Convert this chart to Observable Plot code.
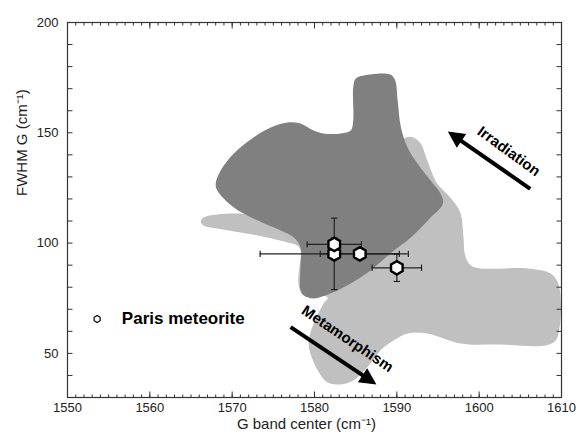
<!DOCTYPE html>
<html>
<head>
<meta charset="utf-8">
<script src="https://cdn.jsdelivr.net/npm/d3@7"></script>
<script src="https://cdn.jsdelivr.net/npm/@observablehq/plot@0.6"></script>
<style>
  html, body { margin: 0; padding: 0; background: white; }
</style>
</head>
<body>
<div id="chart"></div>
<script>
// ---- Data ----
// Light grey domain (outline points, x = G band center, y = FWHM G)
const lightX = [1566.5, 1568.2, 1571.0, 1574.1, 1588.0, 1591.1, 1592.0, 1592.9, 1593.7, 1594.9, 1596.5, 1597.7, 1598.1, 1598.3, 1599.0, 1600.2, 1605.9, 1608.7, 1609.6, 1609.9, 1609.8, 1609.3, 1608.1, 1602.6, 1597.7, 1593.7, 1591.3, 1589.6, 1588.0, 1586.4, 1584.7, 1583.2, 1581.6, 1580.7, 1579.5, 1579.3, 1579.9, 1581.1, 1581.6, 1578.3, 1578.3, 1577.9, 1576.7, 1573.1, 1568.2, 1566.5, 1566.2];
const lightY = [111.6, 113.0, 113.4, 112.1, 137.4, 147.9, 147.9, 145.1, 137.4, 127.0, 120.7, 113.9, 102.5, 94.4, 89.8, 88.5, 88.5, 86.2, 81.7, 74.0, 62.6, 55.8, 53.6, 54.0, 54.5, 59.0, 59.0, 55.8, 51.3, 43.6, 37.7, 35.9, 36.8, 40.4, 49.9, 55.8, 63.5, 72.6, 75.3, 78.5, 96.6, 98.9, 100.3, 103.4, 106.6, 108.0, 109.8];

// Dark grey domain
const darkX = [1585.0, 1586.0, 1589.2, 1589.8, 1590.1, 1590.5, 1591.3, 1592.5, 1594.1, 1595.3, 1595.6, 1594.1, 1591.7, 1589.2, 1586.8, 1584.4, 1581.9, 1579.9, 1578.7, 1578.3, 1578.3, 1578.3, 1577.5, 1575.9, 1573.1, 1570.2, 1568.2, 1568.0, 1568.6, 1570.2, 1572.6, 1574.7, 1576.7, 1578.3, 1579.9, 1581.1, 1583.2, 1584.4, 1584.7, 1584.7];
const darkY = [174.6, 176.0, 176.4, 173.7, 164.6, 152.4, 143.3, 136.1, 128.4, 122.5, 118.0, 111.6, 102.5, 95.3, 87.6, 81.7, 77.1, 74.9, 76.2, 78.5, 88.9, 98.0, 102.5, 105.7, 110.2, 116.1, 123.8, 127.0, 132.9, 140.6, 147.9, 152.4, 154.7, 154.2, 151.0, 149.7, 149.7, 151.0, 155.6, 170.5];

// Paris meteorite measurements
const parisX = [1582.4, 1582.4, 1585.5, 1590.0];
const parisY = [95.1, 99.4, 95.1, 88.8];
const parisErrX = [9.0, 3.3, 4.8, 3.0];
const parisErrY = [16.2, 3.0, 0, 6.2];

// Axis ticks
const xTickValues = [1550, 1560, 1570, 1580, 1590, 1600, 1610];
const xMinorTicks = d3.range(1550, 1611, 1);
const yTickValues = [50, 100, 150, 200];
const yMinorTicks = d3.range(30, 201, 10);

// Texts
const xTitle = "G band center (cm\u207B\u00B9)";
const yTitle = "FWHM G (cm\u207B\u00B9)";
const legendLabel = ["Paris meteorite"];
const legendX = [1553.6];
const legendY = [65.6];
const legendTextX = [1556.6];

// Trend arrows and labels
const arrowNames = ["Irradiation", "Metamorphism"];
const arrowX1 = [1606.2, 1577.1];
const arrowY1 = [124.6, 61.9];
const arrowX2 = [1596.3, 1587.4];
const arrowY2 = [150.3, 36.2];
const arrowHeadRotate = [-55.5, 123.7];
const arrowLabelX = [1603.6, 1584.0];
const arrowLabelY = [141.6, 56.6];
const arrowLabelRotate = [36, 34];

// ---- Build tables ----
const light = lightX.map((x, i) => ({x, y: lightY[i]}));
const dark = darkX.map((x, i) => ({x, y: darkY[i]}));
const paris = parisX.map((x, i) => ({x, y: parisY[i], ex: parisErrX[i], ey: parisErrY[i]}));
const parisEy = paris.filter(d => d.ey > 0);
const arrows = arrowNames.map((name, i) => ({
  name, x1: arrowX1[i], y1: arrowY1[i], x2: arrowX2[i], y2: arrowY2[i],
  // shaft stops a little before the tip so the filled head covers its end
  sx2: arrowX1[i] + 0.9 * (arrowX2[i] - arrowX1[i]),
  sy2: arrowY1[i] + 0.9 * (arrowY2[i] - arrowY1[i]),
  hr: arrowHeadRotate[i],
  lx: arrowLabelX[i], ly: arrowLabelY[i], rot: arrowLabelRotate[i]
}));

// custom symbols
const capV = {draw(ctx, size) { const r = Math.sqrt(size / Math.PI); ctx.moveTo(0, -r); ctx.lineTo(0, r); }};
const capH = {draw(ctx, size) { const r = Math.sqrt(size / Math.PI); ctx.moveTo(-r, 0); ctx.lineTo(r, 0); }};
const tickSym = (dx, dy) => ({draw(ctx, size) { const l = Math.sqrt(size / Math.PI); ctx.moveTo(0, 0); ctx.lineTo(dx * l, dy * l); }});
const headSym = {draw(ctx, size) { const l = Math.sqrt(size / Math.PI); ctx.moveTo(0, 0); ctx.lineTo(-0.5 * l, l); ctx.lineTo(0.5 * l, l); ctx.closePath(); }};

const axisColor = "#333";

const chart = Plot.plot({
  width: 579,
  height: 434,
  marginLeft: 67,
  marginRight: 18,
  marginTop: 22,
  marginBottom: 37,
  style: {fontFamily: "'Liberation Sans', Arial, sans-serif", fontSize: "13px", color: "#222", background: "white"},
  x: {domain: [1550, 1610]},
  y: {domain: [30, 200]},
  marks: [
    // domains
    Plot.line(light, {x: "x", y: "y", curve: "catmull-rom-closed", fill: "#c0c0c0", stroke: "none"}),
    Plot.line(dark, {x: "x", y: "y", curve: "catmull-rom-closed", fill: "#808080", stroke: "none"}),

    // error bars
    Plot.ruleY(paris, {y: "y", x1: d => d.x - d.ex, x2: d => d.x + d.ex, stroke: "#222", strokeWidth: 1.2}),
    Plot.ruleX(parisEy, {x: "x", y1: d => d.y - d.ey, y2: d => d.y + d.ey, stroke: "#222", strokeWidth: 1.2}),
    Plot.dot(paris, {x: d => d.x - d.ex, y: "y", symbol: capV, r: 3.2, fill: "none", stroke: "#222", strokeWidth: 1.2}),
    Plot.dot(paris, {x: d => d.x + d.ex, y: "y", symbol: capV, r: 3.2, fill: "none", stroke: "#222", strokeWidth: 1.2}),
    Plot.dot(parisEy, {x: "x", y: d => d.y - d.ey, symbol: capH, r: 3.2, fill: "none", stroke: "#222", strokeWidth: 1.2}),
    Plot.dot(parisEy, {x: "x", y: d => d.y + d.ey, symbol: capH, r: 3.2, fill: "none", stroke: "#222", strokeWidth: 1.2}),

    // points
    Plot.dot(paris, {x: "x", y: "y", symbol: "hexagon", r: 5.8, fill: "white", stroke: "black", strokeWidth: 2.4}),

    // legend
    Plot.dot(legendLabel, {x: legendX, y: legendY, symbol: "hexagon", r: 3, fill: "white", stroke: "black", strokeWidth: 1.2}),
    Plot.text(legendLabel, {x: legendTextX, y: legendY, text: d => d, textAnchor: "start", fontSize: 17, fontWeight: "bold", fill: "black"}),

    // trend arrows
    Plot.link(arrows, {x1: "x1", y1: "y1", x2: "sx2", y2: "sy2", stroke: "black", strokeWidth: 4}),
    Plot.dot(arrows, {x: "x2", y: "y2", symbol: headSym, r: 15, rotate: "hr", fill: "black", stroke: "black", strokeWidth: 1}),
    Plot.text(arrows, {x: "lx", y: "ly", text: "name", rotate: d => d.rot, fontSize: 15, fontWeight: "bold", fill: "black"}),

    // axes: tick labels
    Plot.axisX({anchor: "bottom", ticks: xTickValues, tickSize: 0, tickPadding: 5, tickFormat: d => String(d), label: null, fontSize: 13, fill: "#222"}),
    Plot.axisY({anchor: "left", ticks: yTickValues, tickSize: 0, tickPadding: 9, tickFormat: d => String(d), label: null, fontSize: 13, fill: "#222"}),

    // axes: inward ticks on all four sides
    Plot.dot(xMinorTicks, {x: d => d, frameAnchor: "bottom", symbol: tickSym(0, -1), r: 3, fill: "none", stroke: axisColor, strokeWidth: 1}),
    Plot.dot(xTickValues, {x: d => d, frameAnchor: "bottom", symbol: tickSym(0, -1), r: 6, fill: "none", stroke: axisColor, strokeWidth: 1}),
    Plot.dot(xMinorTicks, {x: d => d, frameAnchor: "top", symbol: tickSym(0, 1), r: 3, fill: "none", stroke: axisColor, strokeWidth: 1}),
    Plot.dot(xTickValues, {x: d => d, frameAnchor: "top", symbol: tickSym(0, 1), r: 6, fill: "none", stroke: axisColor, strokeWidth: 1}),
    Plot.dot(yMinorTicks, {y: d => d, frameAnchor: "left", symbol: tickSym(1, 0), r: 5, fill: "none", stroke: axisColor, strokeWidth: 1}),
    Plot.dot(yMinorTicks, {y: d => d, frameAnchor: "right", symbol: tickSym(-1, 0), r: 5, fill: "none", stroke: axisColor, strokeWidth: 1}),

    // axis titles
    Plot.text([xTitle], {frameAnchor: "bottom", text: d => d, dx: -8, dy: 31, fontSize: 15, fill: "#222"}),
    Plot.text([yTitle], {frameAnchor: "left", text: d => d, dx: -45, dy: -14, rotate: -90, fontSize: 15, fill: "#222"}),

    Plot.frame({stroke: axisColor, strokeWidth: 1.2})
  ]
});

document.getElementById("chart").appendChild(chart);
</script>
</body>
</html>
